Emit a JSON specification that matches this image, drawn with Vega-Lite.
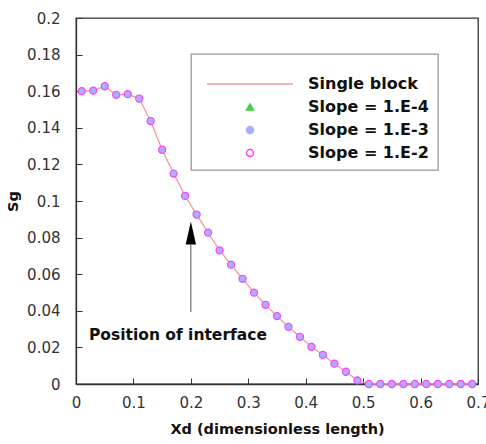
{
  "$schema": "https://vega.github.io/schema/vega-lite/v6.json",
  "width": 402,
  "height": 366,
  "autosize": {"type": "none"},
  "padding": {"left": 76, "top": 18, "right": 8, "bottom": 60},
  "background": "white",
  "datasets": {
    "sg": [
      {"x": 0.01, "y": 0.1600}, {"x": 0.03, "y": 0.1603}, {"x": 0.05, "y": 0.1627},
      {"x": 0.07, "y": 0.1580}, {"x": 0.09, "y": 0.1584}, {"x": 0.11, "y": 0.1560},
      {"x": 0.13, "y": 0.1437}, {"x": 0.15, "y": 0.1280}, {"x": 0.17, "y": 0.1150},
      {"x": 0.19, "y": 0.1028}, {"x": 0.21, "y": 0.0926}, {"x": 0.23, "y": 0.0827},
      {"x": 0.25, "y": 0.0730}, {"x": 0.27, "y": 0.0652}, {"x": 0.29, "y": 0.0575},
      {"x": 0.31, "y": 0.0499}, {"x": 0.33, "y": 0.0433}, {"x": 0.35, "y": 0.0371},
      {"x": 0.37, "y": 0.0312}, {"x": 0.39, "y": 0.0258}, {"x": 0.41, "y": 0.0203},
      {"x": 0.43, "y": 0.0159}, {"x": 0.45, "y": 0.0111}, {"x": 0.47, "y": 0.0067},
      {"x": 0.49, "y": 0.0020}, {"x": 0.51, "y": 0}, {"x": 0.53, "y": 0},
      {"x": 0.55, "y": 0}, {"x": 0.57, "y": 0}, {"x": 0.59, "y": 0},
      {"x": 0.61, "y": 0}, {"x": 0.63, "y": 0}, {"x": 0.65, "y": 0},
      {"x": 0.67, "y": 0}, {"x": 0.69, "y": 0}
    ]
  },
  "config": {
    "view": {"stroke": "#333", "strokeWidth": 1.3},
    "axis": {
      "grid": false,
      "labelFlush": false,
      "domainColor": "#333",
      "domainWidth": 1.3,
      "tickColor": "#333",
      "tickSize": -6,
      "labelFont": "DejaVu Sans",
      "labelFontSize": 15,
      "labelColor": "#333",
      "titleFont": "DejaVu Sans",
      "titleFontWeight": "bold",
      "titleFontSize": 14.5,
      "titleColor": "#111"
    },
    "legend": {
      "orient": "none",
      "legendX": 115,
      "legendY": 36,
      "fillColor": "white",
      "strokeColor": "#999",
      "strokeWidth": 1.3,
      "padding": 9,
      "labelFont": "DejaVu Sans",
      "labelFontWeight": "bold",
      "labelFontSize": 16,
      "labelColor": "#111",
      "rowPadding": 7,
      "symbolOffset": 42,
      "labelOffset": 50,
      "symbolStrokeWidth": 1.5,
      "titleFontSize": 2,
      "titlePadding": 11
    }
  },
  "encoding": {
    "x": {
      "field": "x", "type": "quantitative",
      "scale": {"domain": [0, 0.7], "nice": false},
      "axis": {"values": [0, 0.1, 0.2, 0.3, 0.4, 0.5, 0.6, 0.7], "format": "~g", "labelPadding": 17, "labelOverlap": false, "title": "Xd (dimensionless length)", "titlePadding": 12}
    },
    "y": {
      "field": "y", "type": "quantitative",
      "scale": {"domain": [0, 0.2], "nice": false},
      "axis": {"values": [0, 0.02, 0.04, 0.06, 0.08, 0.1, 0.12, 0.14, 0.16, 0.18, 0.2], "format": "~g", "labelPadding": 22, "labelOverlap": false, "title": "Sg", "titlePadding": 6}
    }
  },
  "layer": [
    {
      "data": {"name": "sg"},
      "mark": {"type": "line", "strokeWidth": 1.3},
      "encoding": {
        "stroke": {
          "datum": "Single block",
          "scale": {"domain": ["Single block", "Slope = 1.E-4", "Slope = 1.E-3", "Slope = 1.E-2"], "range": ["#f29a9a", "#44d044", "#a8b0ff", "#ff40ff"]},
          "legend": {"title": " ", "encode": {"symbols": {"update": {"size": {"signal": "datum.value === 'Single block' ? 7400 : 50"}}}}}
        }
      }
    },
    {
      "data": {"name": "sg"},
      "mark": {"type": "point", "size": 30, "strokeWidth": 1, "opacity": 1},
      "encoding": {
        "stroke": {"datum": "Slope = 1.E-4"},
        "fill": {
          "datum": "Slope = 1.E-4",
          "scale": {"domain": ["Single block", "Slope = 1.E-4", "Slope = 1.E-3", "Slope = 1.E-2"], "range": ["transparent", "#44d044", "#a8b0ff", "transparent"]},
          "legend": {"title": " ", "encode": {"symbols": {"update": {"size": {"signal": "datum.value === 'Single block' ? 7400 : 50"}}}}}
        },
        "shape": {
          "datum": "Slope = 1.E-4",
          "scale": {"domain": ["Single block", "Slope = 1.E-4", "Slope = 1.E-3", "Slope = 1.E-2"], "range": ["stroke", "triangle-up", "circle", "circle"]},
          "legend": {"title": " ", "encode": {"symbols": {"update": {"size": {"signal": "datum.value === 'Single block' ? 7400 : 50"}}}}}
        }
      }
    },
    {
      "data": {"name": "sg"},
      "mark": {"type": "point", "size": 45, "strokeWidth": 1, "opacity": 1},
      "encoding": {
        "stroke": {"datum": "Slope = 1.E-3"},
        "fill": {"datum": "Slope = 1.E-3"},
        "shape": {"datum": "Slope = 1.E-3"}
      }
    },
    {
      "data": {"name": "sg"},
      "mark": {"type": "point", "size": 50, "strokeWidth": 1.2, "opacity": 1},
      "encoding": {
        "stroke": {"datum": "Slope = 1.E-2"},
        "fill": {"datum": "Slope = 1.E-2"},
        "shape": {"datum": "Slope = 1.E-2"}
      }
    },
    {
      "data": {"values": [{"x": 0.2, "y": 0.0393, "y2": 0.076}]},
      "mark": {"type": "rule", "color": "#555", "strokeWidth": 1},
      "encoding": {"y2": {"field": "y2"}}
    },
    {
      "data": {"values": [{"x": 0.2, "y": 0.0825}]},
      "mark": {"type": "point", "shape": "M-0.45,1L0,-1L0.45,1Z", "size": 529, "filled": true, "color": "#000", "opacity": 1}
    },
    {
      "data": {"values": [{"x": 0.0226, "y": 0.027, "label": "Position of interface"}]},
      "mark": {"type": "text", "align": "left", "baseline": "middle", "font": "DejaVu Sans", "fontWeight": "bold", "fontSize": 15.5, "color": "#111"},
      "encoding": {"text": {"field": "label"}}
    }
  ]
}
